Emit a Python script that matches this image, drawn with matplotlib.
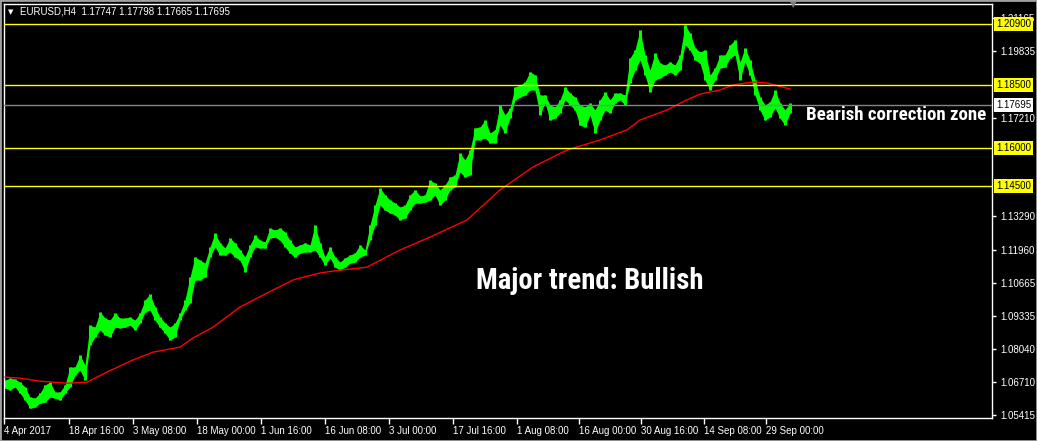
import matplotlib
matplotlib.use('Agg')
import matplotlib.pyplot as plt
import matplotlib.transforms as mtransforms
from matplotlib.patches import Rectangle
from matplotlib import font_manager
import numpy as np

plt.rcParams['font.family'] = ['Liberation Sans', 'DejaVu Sans']

# ---------------- data (EURUSD H4, sampled every 5 bars) ----------------
bar_start = 1
bar_step = 5
highs = [1.0680, 1.0688, 1.0684, 1.0672, 1.0653, 1.0613, 1.0609, 1.0629, 1.0661, 1.0672,
         1.0633, 1.0633, 1.0661, 1.0732, 1.0732, 1.0779, 1.0740, 1.0898, 1.0890, 1.0950,
         1.0926, 1.0918, 1.0946, 1.0926, 1.0926, 1.0930, 1.0918, 1.0946, 1.0998, 1.1021,
         1.0970, 1.0930, 1.0906, 1.0890, 1.0906, 1.0946, 1.0998, 1.1089, 1.1168, 1.1156,
         1.1144, 1.1208, 1.1263, 1.1224, 1.1204, 1.1243, 1.1224, 1.1196, 1.1168, 1.1216,
         1.1255, 1.1235, 1.1228, 1.1283, 1.1275, 1.1283, 1.1267, 1.1235, 1.1208, 1.1216,
         1.1224, 1.1216, 1.1295, 1.1224, 1.1168, 1.1208, 1.1168, 1.1148, 1.1164, 1.1176,
         1.1184, 1.1216, 1.1196, 1.1295, 1.1374, 1.1442, 1.1414, 1.1394, 1.1382, 1.1366,
         1.1374, 1.1414, 1.1434, 1.1410, 1.1414, 1.1473, 1.1461, 1.1434, 1.1454, 1.1485,
         1.1493, 1.1580, 1.1553, 1.1592, 1.1680, 1.1683, 1.1711, 1.1660, 1.1672, 1.1771,
         1.1731, 1.1759, 1.1842, 1.1850, 1.1862, 1.1902, 1.1890, 1.1810, 1.1810, 1.1771,
         1.1763, 1.1791, 1.1842, 1.1818, 1.1802, 1.1771, 1.1763, 1.1779, 1.1751, 1.1791,
         1.1822, 1.1791, 1.1818, 1.1818, 1.1810, 1.1957, 1.1989, 1.2068, 1.1969, 1.1909,
         1.1977, 1.1937, 1.1929, 1.1941, 1.1929, 1.1969, 1.2088, 1.2056, 1.1997, 1.1981,
         1.1989, 1.1890, 1.1917, 1.1969, 1.1969, 1.2009, 1.2028, 1.1941, 1.1997, 1.1949,
         1.1870, 1.1802, 1.1771, 1.1783, 1.1830, 1.1779, 1.1751, 1.1779]
lows = [1.0649, 1.0641, 1.0653, 1.0629, 1.0601, 1.0569, 1.0573, 1.0589, 1.0593, 1.0613,
        1.0609, 1.0601, 1.0629, 1.0653, 1.0700, 1.0720, 1.0680, 1.0819, 1.0851, 1.0879,
        1.0859, 1.0851, 1.0890, 1.0887, 1.0890, 1.0898, 1.0879, 1.0906, 1.0950, 1.0958,
        1.0918, 1.0890, 1.0867, 1.0839, 1.0851, 1.0918, 1.0958, 1.0986, 1.1077, 1.1077,
        1.1089, 1.1168, 1.1208, 1.1176, 1.1176, 1.1188, 1.1168, 1.1156, 1.1109, 1.1168,
        1.1208, 1.1204, 1.1204, 1.1243, 1.1247, 1.1235, 1.1208, 1.1184, 1.1168, 1.1184,
        1.1188, 1.1188, 1.1196, 1.1168, 1.1136, 1.1164, 1.1128, 1.1116, 1.1128, 1.1144,
        1.1148, 1.1168, 1.1176, 1.1235, 1.1295, 1.1374, 1.1354, 1.1343, 1.1335, 1.1315,
        1.1323, 1.1354, 1.1382, 1.1382, 1.1386, 1.1394, 1.1414, 1.1374, 1.1394, 1.1434,
        1.1446, 1.1505, 1.1485, 1.1493, 1.1632, 1.1632, 1.1640, 1.1620, 1.1620, 1.1691,
        1.1660, 1.1719, 1.1791, 1.1802, 1.1810, 1.1830, 1.1830, 1.1731, 1.1779, 1.1711,
        1.1719, 1.1739, 1.1791, 1.1771, 1.1751, 1.1691, 1.1683, 1.1731, 1.1660, 1.1711,
        1.1751, 1.1739, 1.1779, 1.1791, 1.1771, 1.1858, 1.1909, 1.1949, 1.1890, 1.1822,
        1.1870, 1.1878, 1.1890, 1.1902, 1.1890, 1.1909, 1.2009, 1.1989, 1.1949, 1.1937,
        1.1870, 1.1830, 1.1870, 1.1917, 1.1921, 1.1957, 1.1969, 1.1870, 1.1941, 1.1890,
        1.1810, 1.1751, 1.1711, 1.1723, 1.1759, 1.1719, 1.1691, 1.1739]

ma_bars = [1, 16, 36, 63, 83, 103, 129, 149, 176, 189, 209, 236, 263, 289, 316, 336,
           363, 396, 426, 463, 496, 529, 563, 596, 623, 636, 663, 683, 696, 716, 729,
           749, 763, 786]
ma_values = [1.0692, 1.0688, 1.0676, 1.0668, 1.0672, 1.0712, 1.0760, 1.0791, 1.0811,
             1.0847, 1.0890, 1.0970, 1.1025, 1.1077, 1.1105, 1.1116, 1.1128, 1.1196,
             1.1247, 1.1315, 1.1434, 1.1525, 1.1592, 1.1632, 1.1672, 1.1711, 1.1751,
             1.1791, 1.1814, 1.1830, 1.1850, 1.1862, 1.1858, 1.1834]

levels = [1.20900, 1.18500, 1.16000, 1.14500]
bid_price = 1.17695
ohlc_text = "EURUSD,H4  1.17747 1.17798 1.17665 1.17695"

ytick_values = [1.05415, 1.06710, 1.08040, 1.09335, 1.10665, 1.11960, 1.13290,
                1.17210, 1.19835, 1.21165]
xtick_bars = [0, 65, 129, 193, 257, 321, 385, 449, 513, 575, 637, 700, 762]
xtick_labels = ["4 Apr 2017", "18 Apr 16:00", "3 May 08:00", "18 May 00:00",
                "1 Jun 16:00", "16 Jun 08:00", "3 Jul 00:00", "17 Jul 16:00",
                "1 Aug 08:00", "16 Aug 00:00", "30 Aug 16:00", "14 Sep 08:00",
                "29 Sep 00:00"]

# ---------------- figure ----------------
W, H, DPI = 1037, 441, 100
fig = plt.figure(figsize=(W / DPI, H / DPI), dpi=DPI, facecolor='black')


def fx(px):
    return px / W


def fy(py):
    return 1 - py / H


ax = fig.add_axes([fx(4), fy(418), fx(992) - fx(4), fy(4) - fy(418)])
ax.set_facecolor('black')
ax.set_xlim(0, 988)
ax.set_ylim(1.0530, 1.2171)

bars = bar_start + bar_step * np.arange(len(highs))
ax.fill_between(bars, lows, highs, color='#00ff00', linewidth=0, zorder=2)
ax.vlines(bars, lows, highs, colors='#00ff00', linewidth=2.2, zorder=2)
ax.plot(ma_bars, ma_values, color='#ff0000', linewidth=1.0, zorder=3)

for lv in levels:
    ax.axhline(lv, color='#ffff00', linewidth=1.0, zorder=4)
ax.axhline(bid_price, color='#778899', linewidth=1.0, zorder=4)

for sp in ax.spines.values():
    sp.set_color('white')
    sp.set_linewidth(1.0)

ax.yaxis.tick_right()
ax.set_yticks(ytick_values)
ax.set_yticklabels([f"{v:.5f}" for v in ytick_values])
ax.tick_params(axis='y', direction='out', length=3, width=1, color='white',
               labelcolor='white', labelsize=7, pad=3)
ax.set_xticks(xtick_bars)
ax.set_xticklabels(xtick_labels, ha='left')
ax.tick_params(axis='x', direction='out', length=4, width=1, color='white',
               labelcolor='white', labelsize=7, pad=2)

trans = mtransforms.blended_transform_factory(ax.transAxes, ax.transData)
trans_off = mtransforms.offset_copy(trans, fig=fig, x=4, y=0, units='dots')
for lv in levels:
    ax.text(1.0, lv, f"{lv:.5f}", transform=trans_off, ha='left', va='center',
            fontsize=7, color='black', clip_on=False, zorder=10,
            bbox=dict(boxstyle='square,pad=0.2', facecolor='#ffff00', edgecolor='none'))
ax.text(1.0, bid_price, f"{bid_price:.5f}", transform=trans_off, ha='left', va='center',
        fontsize=7, color='black', clip_on=False, zorder=10,
        bbox=dict(boxstyle='square,pad=0.2', facecolor='white', edgecolor='none'))

# annotations: prefer a narrow font, then fit to the reference width
names = {f.name for f in font_manager.fontManager.ttflist}
narrow = [n for n in ['Liberation Sans Narrow', 'Arial Narrow', 'Roboto Condensed',
                      'Open Sans Condensed'] if n in names]
narrow = (narrow[:1] or []) + ['Liberation Sans', 'DejaVu Sans']

t_major = fig.text(fx(476), fy(289), "Major trend: Bullish", color='white', fontsize=21,
                   fontweight='bold', family=narrow, ha='left', va='baseline')
t_bear = fig.text(fx(806), fy(120), "Bearish correction zone", color='white', fontsize=14,
                  fontweight='bold', family=narrow, ha='left', va='baseline')

fig.canvas.draw()
renderer = fig.canvas.get_renderer()
for t, target in ((t_major, 227.0), (t_bear, 180.0)):
    w = t.get_window_extent(renderer=renderer).width
    t.set_fontsize(t.get_fontsize() * target / w)

# header
fig.text(fx(8), fy(12), "\u25BC", color='white', fontsize=5, family=['DejaVu Sans'],
         ha='left', va='center')
fig.text(fx(20), fy(12), ohlc_text, color='white', fontsize=7, ha='left', va='center')
fig.text(fx(793), fy(5), "\u25BC", color='#808080', fontsize=6, family=['DejaVu Sans'],
         ha='center', va='center')

# window border
fig.patches.append(Rectangle((0, 0), 1, 1, transform=fig.transFigure, fill=False,
                             edgecolor='#a0a0a0', linewidth=2.0))

fig.savefig('out.png', dpi=DPI, facecolor='black')
